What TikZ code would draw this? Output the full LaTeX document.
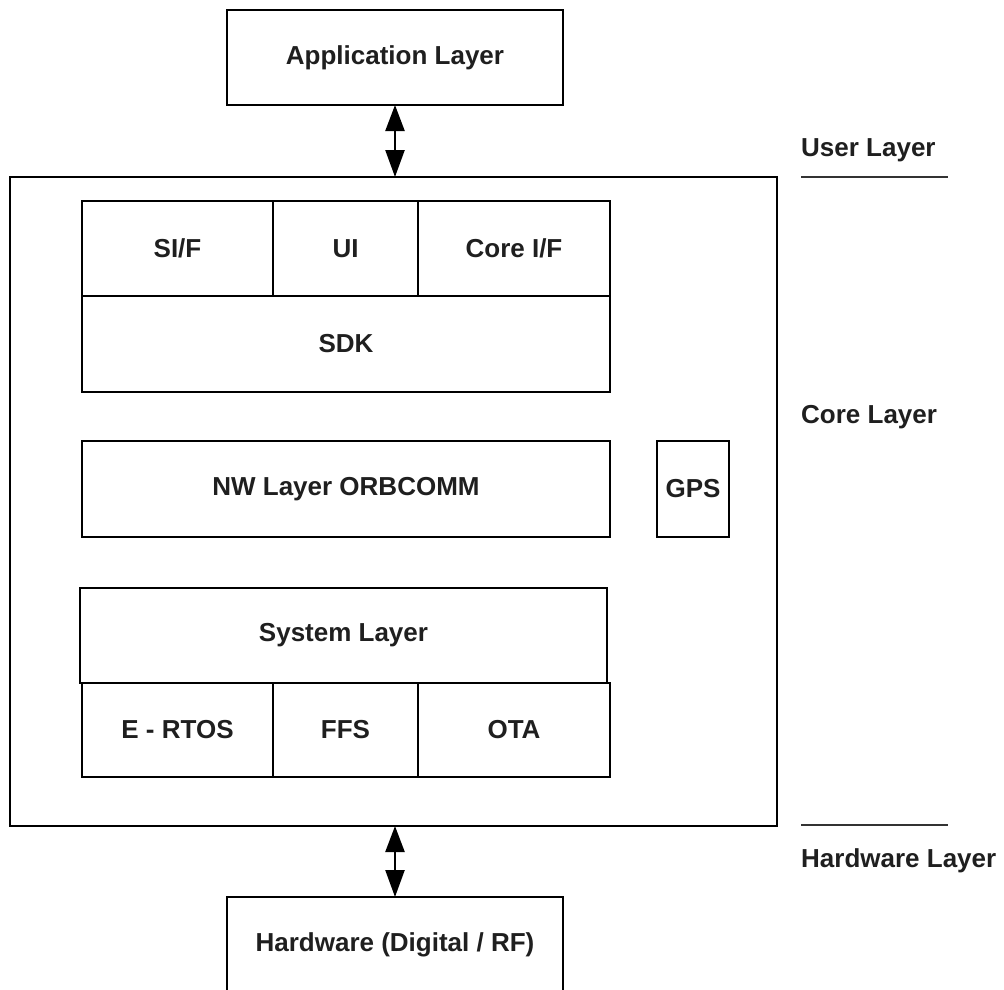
\documentclass[tikz,border=0pt]{standalone}
\usepackage{fontspec}
\setmainfont{Liberation Sans}
\usetikzlibrary{positioning,arrows.meta}

\begin{document}
\begin{tikzpicture}[x=1pt, y=-1pt, node distance=0pt]
\tikzstyle{blk}=[draw, rectangle, line width=2.6pt, outer sep=0pt, inner sep=0pt, minimum height=95, text=black!88, font=\fontsize{26}{30}\selectfont\bfseries]
\tikzstyle{lbl}=[anchor=west, inner sep=0pt, text=black!88, font=\fontsize{26}{30}\selectfont\bfseries]
\tikzstyle{dbl}=[line width=2.4pt, {Triangle[length=26pt,width=19pt]}-{Triangle[length=27pt,width=19pt]}]
\useasboundingbox (0,0) rectangle (1004,989);
\clip (0,0) rectangle (1004,989);

% outer layers
\node[blk, minimum width=336] (app) at (395,57.5) {Application Layer};
\node[blk, minimum width=767, minimum height=649] (core) at (393.5,501.5) {};
\node[blk, minimum width=336, minimum height=96] (hw) at (395,945) {Hardware (Digital / RF)};

% top stack
\node[blk, minimum width=191] (sif) at (177.5,248.5) {SI/F};
\node[blk, minimum width=145] (ui) [right=of sif] {UI};
\node[blk, minimum width=192] (coreif) [right=of ui] {Core I/F};
\node[blk, minimum width=528, minimum height=96, anchor=north west] (sdk) at (sif.south west) {SDK};

% network
\node[blk, minimum width=528, minimum height=96] (nw) at (346,489) {NW Layer ORBCOMM};
\node[blk, minimum width=72, minimum height=96] (gps) at (693,489) {GPS};

% system stack
\node[blk, minimum width=527] (sys) at (343.5,635.5) {System Layer};
\node[blk, minimum width=191, minimum height=94] (ertos) at (177.5,730) {E - RTOS};
\node[blk, minimum width=145, minimum height=94] (ffs) [right=of ertos] {FFS};
\node[blk, minimum width=192, minimum height=94] (ota) [right=of ffs] {OTA};

% layer names
\node[lbl] (user) at (801,150) {User Layer};
\node[lbl] (corel) at (801,417) {Core Layer};
\node[lbl] (hwl) at (801,861) {Hardware Layer};
\coordinate (u1) at (801,177);
\coordinate (u2) at (948,177);
\coordinate (h1) at (801,825);
\coordinate (h2) at (948,825);
\draw[line width=2.6pt, black!80] (u1) -- (u2);
\draw[line width=2.6pt, black!80] (h1) -- (h2);

\draw[dbl] (app.south) -- (app.south |- core.north);
\draw[dbl] (hw.north |- core.south) -- (hw.north);
\end{tikzpicture}
\end{document}
